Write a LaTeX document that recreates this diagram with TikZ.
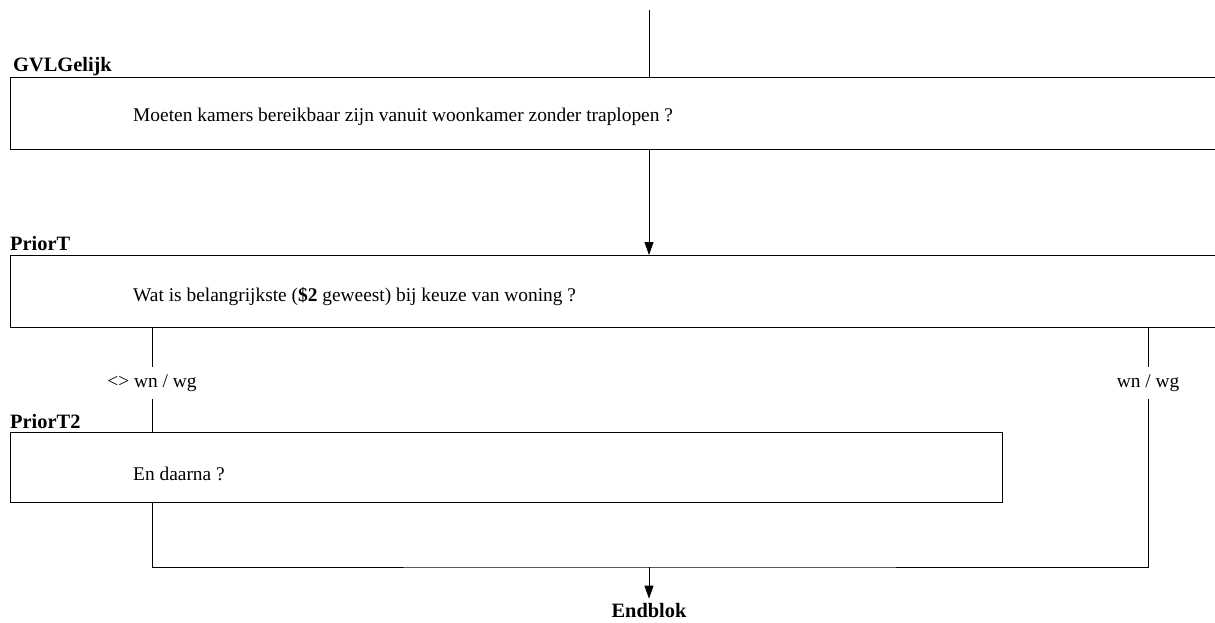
\documentclass[tikz,border=0pt]{standalone}
\usepackage{fontspec}
\setmainfont{Liberation Serif}
\usetikzlibrary{positioning,arrows.meta}

\begin{document}
\begin{tikzpicture}[x=1pt, y=-1pt,
    qbox/.style={draw, line width=0.8pt, anchor=north west,
                 minimum height=72pt, inner sep=0pt},
    qtext/.style={anchor=base west, inner sep=0pt,
                  font=\fontsize{19.4}{22}\selectfont},
    qname/.style={anchor=base west, inner sep=0pt,
                  font=\fontsize{20.4}{23}\selectfont\bfseries},
    cond/.style={minimum height=32pt, inner sep=0pt,
                 font=\fontsize{19.4}{22}\selectfont},
    wire/.style={line width=0.8pt},
    arr/.style={wire, -{Triangle[length=13pt, width=9pt]}}]

  \clip (0,0) rectangle (1215,623);

  % question blocks
  \node[qbox, minimum width=1215pt] (gvl) at (10,77) {};
  \node[qname] (gvlname) at (13,72) {GVLGelijk};
  \node[qtext] (gvltext) at (133,122) {Moeten kamers bereikbaar zijn vanuit woonkamer zonder traplopen ?};

  \node[qbox, minimum width=1215pt] (prior) at (10,255) {};
  \node[qname] (priorname) at (10,250) {PriorT};
  \node[qtext] (priortext) at (133,301) {Wat is belangrijkste (\textbf{\$2} geweest) bij keuze van woning ?};

  \node[qbox, minimum width=992pt, minimum height=70pt] (prior2) at (10,432) {};
  \node[qname] (prior2name) at (10,428) {PriorT2};
  \node[qtext] (prior2text) at (133,480) {En daarna ?};

  % branch conditions
  \node[cond] (notwn) at (152,383) {<> wn / wg};
  \node[cond] (iswn) at (1148,383) {wn / wg};

  \coordinate (top) at (649,10);
  \coordinate (join) at (649,567);
  \node[qname, anchor=base] (endblok) at (649,617) {Endblok};

  % connectors
  \draw[wire] (top) -- (top |- gvl.north);
  \draw[arr] (gvl.south -| top) -- (prior.north -| top);
  \draw[wire] (prior.south -| notwn) -- (notwn.north);
  \draw[wire] (notwn.south) -- (prior2.north -| notwn);
  \draw[wire] (prior.south -| iswn) -- (iswn.north);
  \draw[wire] (prior2.south -| notwn) |- (join) -| (iswn.south);
  \draw[arr] (join) -- ([yshift=4pt]endblok.north);
\end{tikzpicture}
\end{document}
